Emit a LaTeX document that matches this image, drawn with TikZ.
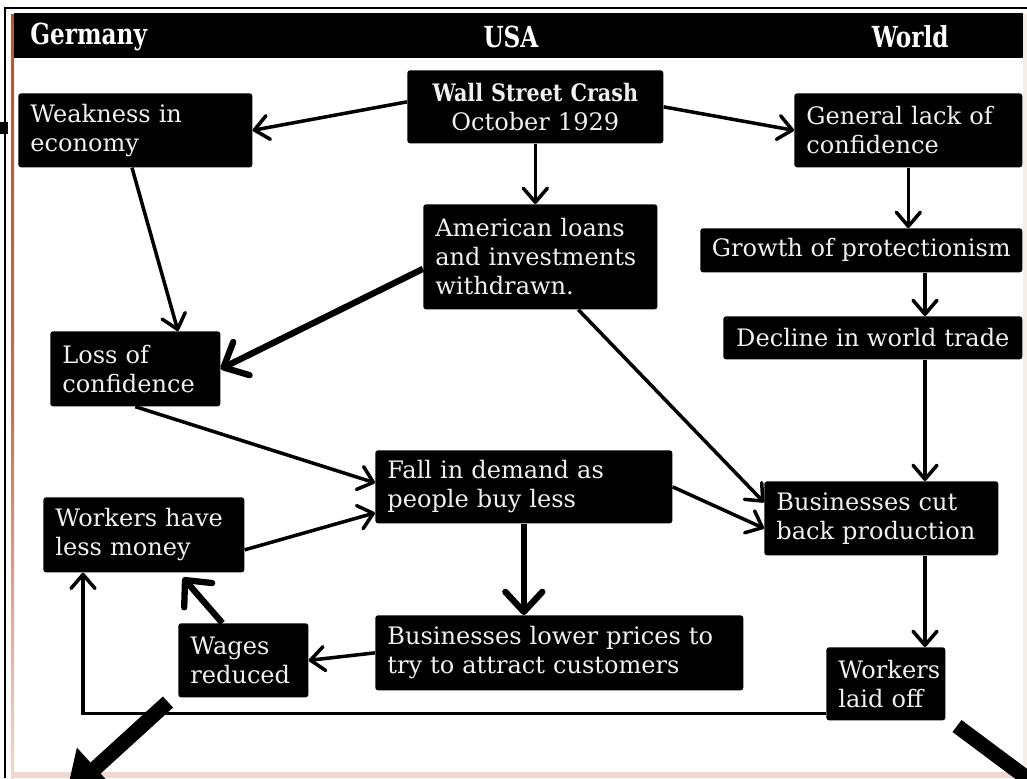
\documentclass[tikz,border=0pt]{standalone}
\usepackage{fontspec}
\setmainfont{DejaVu Serif}
\newfontfamily\headfont[FakeStretch=0.8]{DejaVu Serif}
\newfontfamily\crashfont[FakeStretch=0.86]{DejaVu Serif}
\usetikzlibrary{arrows.meta, positioning, calc}
\hyphenpenalty=10000
\exhyphenpenalty=10000
\definecolor{frameline}{HTML}{A65A3C}
\definecolor{pinkband}{HTML}{F0D8D0}
\definecolor{edgebeige}{HTML}{F6EEE6}

\begin{document}
\begin{tikzpicture}[
  x=0.02cm, y=-0.02cm,
  every node/.style = {inner sep=0pt},
  box/.style = {
    fill=black, text=white!94!black,
    rounded corners=1.5pt,
    anchor=north west, align=left,
    font=\fontsize{13.7}{16.5}\selectfont,
    inner xsep=0.24cm
  },
  head/.style = {text=white, font=\headfont\bfseries\fontsize{16.5}{18}\selectfont},
  arrow/.style = {-{Straight Barb[length=2.8mm, width=4.8mm, round]}, line width=2pt},
  fatarrow/.style = {-{Straight Barb[length=4mm, width=7.4mm, round]}, line width=3.6pt},
  bigarrow/.style = {-{Triangle[length=0.8cm, width=1.05cm]}, line width=0.3cm}
]
\useasboundingbox (0,0) rectangle (1027,778);
\clip (0,0) rectangle (1027,778);

% Frame and title strip
\fill[white] (0,0) rectangle (1027,778);
\fill[edgebeige] (1023,14) rectangle (1027,778);
\fill[pinkband] (13,772) rectangle (1027,778);
\shade[top color=frameline, bottom color=pinkband, middle color=frameline!80!pinkband]
  (11,14) rectangle (14,778);
\draw[line width=1.2pt] (5,778) -- (5,8) -- (1027,8);
\fill (0,122) rectangle (8,134);
\fill (14,13) rectangle (1023,58);

\node[head, anchor=west] (germany) at (30,37) {Germany};
\node[head] (usa) at (511,37) {USA};
\node[head, anchor=east] (world) at (949,37) {World};

% Boxes
\node[box, text width=4.92cm, align=center, inner xsep=0.1cm, minimum height=1.46cm] (crash) at (407,70)
  {\mbox{\crashfont\bfseries Wall Street Crash}\\October 1929};
\node[box, text width=4.2cm, minimum height=1.48cm] (weak) at (18,93) {Weakness in\\economy};
\node[box, text width=4.08cm, minimum height=1.48cm] (lack) at (794,93) {General lack of\\confidence};
\node[box, text width=4.2cm, minimum height=2.1cm] (loans) at (423,204)
  {American loans\\and investments\\withdrawn.};
\node[box, minimum width=6.44cm, minimum height=0.88cm, inner xsep=0pt] (protect) at (700,228)
  {Growth of protectionism};
\node[box, minimum width=5.98cm, minimum height=0.86cm, inner xsep=0pt] (trade) at (723,316)
  {Decline in world trade};
\node[box, text width=2.92cm, minimum height=1.5cm] (loss) at (50,331) {Loss of\\confidence};
\node[box, text width=5.46cm, minimum height=1.46cm] (demand) at (375,450)
  {Fall in demand as\\people buy less};
\node[box, text width=4.2cm, minimum height=1.48cm] (cutback) at (764,481)
  {Businesses cut\\back production};
\node[box, text width=3.54cm, minimum height=1.5cm] (money) at (43,497) {Workers have\\less money};
\node[box, text width=2.12cm, minimum height=1.48cm] (wages) at (178,623) {Wages\\reduced};
\node[box, text width=6.88cm, minimum height=1.5cm] (prices) at (375,615)
  {Businesses lower prices to\\try to attract customers};
\node[box, text width=1.9cm, minimum height=1.46cm] (laidoff) at (826,647) {Workers\\laid off};

% Connectors
\draw[arrow] ([yshift=0.1cm]crash.west) -- (weak.east);
\draw[arrow] (crash.east) -- (lack.west);
\draw[arrow] (crash.south) -- (crash.south |- loans.north);
\draw[arrow] ([xshift=2.28cm]weak.south west) -- ([xshift=2.56cm]loss.north west);
\draw[fatarrow] ([yshift=-0.24cm]loans.west) -- (loss.east);
\draw[arrow] ([xshift=0.76cm]loans.south) -- ([yshift=0.32cm]cutback.west);
\draw[arrow] (lack.south) -- (lack.south |- protect.north);
\coordinate (col) at (925,0);
\draw[arrow] (protect.south -| col) -- (trade.north -| col);
\draw[arrow] (trade.south -| col) -- (cutback.north -| col);
\draw[arrow] (cutback.south -| col) -- (laidoff.north -| col);
\draw[arrow] (loss.south) -- ([yshift=0.08cm]demand.west);
\draw[arrow] ([yshift=-0.3cm]money.east) -- ([yshift=-0.52cm]demand.west);
\draw[arrow] (demand.east) -- ([yshift=-0.2cm]cutback.west);
\draw[fatarrow] (demand.south) -- (demand.south |- prices.north);
\draw[arrow] (prices.west) -- (wages.east);
\draw[fatarrow] ([xshift=-0.42cm]wages.north) -- ([xshift=2.8cm, yshift=-0.1cm]money.south west);
\draw[arrow] ([yshift=0.14cm]laidoff.south west) -| ([xshift=0.8cm]money.south west);

% Arrows running off the page
\coordinate (blTail) at (168,702);
\coordinate (blTip) at (66,795);
\draw[bigarrow] (blTail) -- (blTip);
\coordinate (brTail) at (957,726);
\coordinate (brTip) at (1110,840);
\draw[bigarrow] (brTail) -- (brTip);

\end{tikzpicture}
\end{document}
